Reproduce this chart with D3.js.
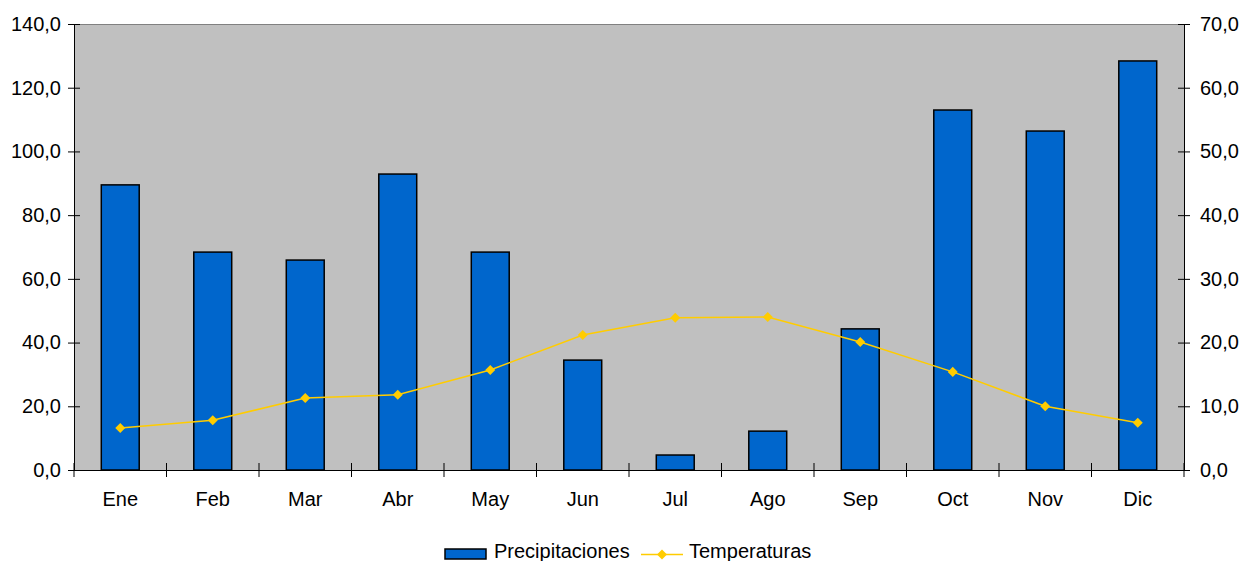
<!DOCTYPE html>
<html>
<head>
<meta charset="utf-8">
<title></title>
<script src="https://d3js.org/d3.v7.min.js"></script>
<style>
body { margin: 0; background: #fff; }
text { font-family: "Liberation Sans", Arial, sans-serif; fill: #000; }
.axis path, .axis line { stroke: #000; }
</style>
</head>
<body>
<script>
// data
var months = ["Ene","Feb","Mar","Abr","May","Jun","Jul","Ago","Sep","Oct","Nov","Dic"];
var precipitaciones = [89.5, 68.4, 65.9, 92.9, 68.4, 34.5, 4.7, 12.2, 44.3, 113.0, 106.4, 128.4];
var temperaturas = [6.6, 7.8, 11.3, 11.8, 15.7, 21.2, 23.9, 24.0, 20.1, 15.4, 10.0, 7.4];
var leftTicks = [0, 20, 40, 60, 80, 100, 120, 140];
var rightTicks = [0, 10, 20, 30, 40, 50, 60, 70];

var W = 1242, H = 561;
var margin = {top: 24, right: 58, bottom: 91, left: 74};
var width = W - margin.left - margin.right,
    height = H - margin.top - margin.bottom;
var fs = "20px";

var svg = d3.select("body").append("svg")
    .attr("width", W)
    .attr("height", H);

var g = svg.append("g")
    .attr("transform", "translate(" + margin.left + "," + margin.top + ")");

var x = d3.scaleBand().domain(months).range([0, width]).paddingInner(0).paddingOuter(0);
var yL = d3.scaleLinear().domain([0, 140]).range([height, 0]);
var yR = d3.scaleLinear().domain([0, 70]).range([height, 0]);

var fmt = function(d) { return d3.format(".1f")(d).replace(".", ","); };

// plot background
g.append("rect")
    .attr("width", width)
    .attr("height", height)
    .attr("fill", "#c0c0c0");
g.append("line")
    .attr("x1", 0).attr("x2", width)
    .attr("y1", 0.5).attr("y2", 0.5)
    .attr("stroke", "#808080");

// bars
var bw = x.bandwidth() * 0.41;
g.selectAll("rect.bar")
    .data(precipitaciones)
    .enter().append("rect")
    .attr("class", "bar")
    .attr("x", function(d, i) { return x(months[i]) + x.bandwidth() / 2 - bw / 2; })
    .attr("y", function(d) { return yL(d); })
    .attr("width", bw)
    .attr("height", function(d) { return height - yL(d); })
    .attr("fill", "#0066cc")
    .attr("stroke", "#000")
    .attr("stroke-width", 1.5);

// temperature line
var line = d3.line()
    .x(function(d, i) { return x(months[i]) + x.bandwidth() / 2; })
    .y(function(d) { return yR(d); });

g.append("path")
    .datum(temperaturas)
    .attr("d", line)
    .attr("fill", "none")
    .attr("stroke", "#ffcc00")
    .attr("stroke-width", 1.5);

var diamond = d3.symbol().type(d3.symbolDiamond2).size(64);
g.selectAll("path.pt")
    .data(temperaturas)
    .enter().append("path")
    .attr("class", "pt")
    .attr("d", diamond)
    .attr("transform", function(d, i) {
        return "translate(" + (x(months[i]) + x.bandwidth() / 2) + "," + yR(d) + ")";
    })
    .attr("fill", "#ffcc00");

// axes
var left = g.append("g").attr("class", "axis")
    .call(d3.axisLeft(yL).tickValues(leftTicks).tickFormat(fmt).tickSizeInner(6).tickSizeOuter(0));
left.selectAll(".tick line").attr("x1", 6).attr("x2", -6);
left.selectAll("text").attr("x", -13).style("font-size", fs);

var right = g.append("g").attr("class", "axis")
    .attr("transform", "translate(" + width + ",0)")
    .call(d3.axisRight(yR).tickValues(rightTicks).tickFormat(fmt).tickSizeInner(6).tickSizeOuter(0));
right.selectAll(".tick line").attr("x1", -6).attr("x2", 6);
right.selectAll("text").attr("x", 16).style("font-size", fs);

var bottom = g.append("g").attr("class", "axis")
    .attr("transform", "translate(0," + height + ")")
    .call(d3.axisBottom(x).tickSize(0).tickSizeOuter(0));
bottom.selectAll("text").attr("y", 22).style("font-size", fs);

// ticks between categories
g.selectAll("line.xtick")
    .data(d3.range(months.length + 1))
    .enter().append("line")
    .attr("class", "xtick")
    .attr("x1", function(i) { return i * x.step(); })
    .attr("x2", function(i) { return i * x.step(); })
    .attr("y1", height - 7)
    .attr("y2", height + 7)
    .attr("stroke", "#000");

g.selectAll(".domain").attr("stroke", "#000");

// legend
var lg = svg.append("g");
lg.append("rect")
    .attr("x", 445).attr("y", 549)
    .attr("width", 41).attr("height", 10)
    .attr("fill", "#0066cc")
    .attr("stroke", "#000")
    .attr("stroke-width", 1.5);
lg.append("text")
    .attr("x", 494).attr("y", 558)
    .style("font-size", fs)
    .text("Precipitaciones");
lg.append("line")
    .attr("x1", 641).attr("x2", 683)
    .attr("y1", 554.5).attr("y2", 554.5)
    .attr("stroke", "#ffcc00")
    .attr("stroke-width", 1.5);
lg.append("path")
    .attr("d", diamond)
    .attr("transform", "translate(662,554.5)")
    .attr("fill", "#ffcc00");
lg.append("text")
    .attr("x", 689).attr("y", 558)
    .style("font-size", fs)
    .text("Temperaturas");
</script>
</body>
</html>
